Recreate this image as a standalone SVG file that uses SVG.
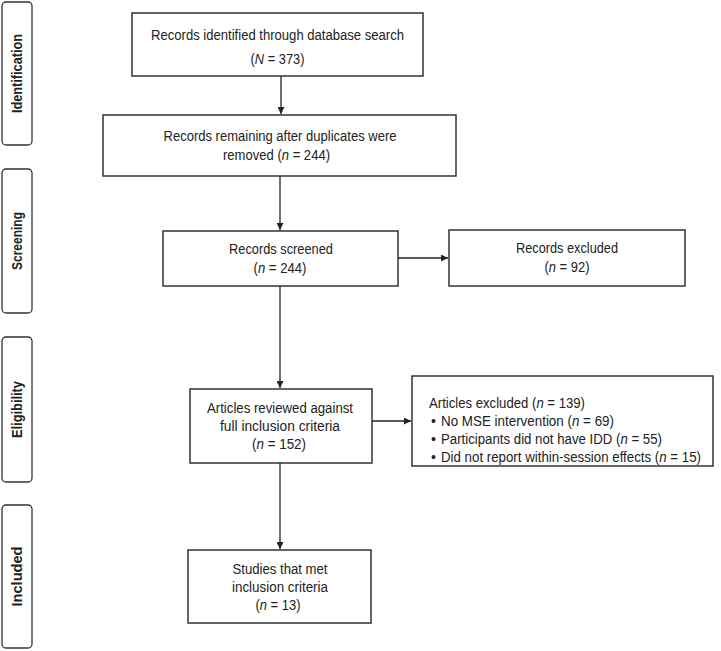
<svg xmlns="http://www.w3.org/2000/svg" width="721" height="651" viewBox="0 0 721 651">
<style>
text{font-family:"Liberation Sans Narrow","Liberation Sans",Arial,sans-serif;font-size:14px;fill:#222;}
.c{text-anchor:middle;}
.side{font-weight:bold;font-size:14px;text-anchor:middle;}
.box{fill:#fff;stroke:#333;stroke-width:1.5;}
.sbox{fill:#fff;stroke:#333;stroke-width:1.3;}
.i{font-style:italic;}
.conn line{stroke:#222;stroke-width:1.3;}
</style>
<defs>
<marker id="ah" viewBox="0 0 10 10" refX="10" refY="5" markerWidth="7" markerHeight="7" markerUnits="userSpaceOnUse" orient="auto">
<path d="M0,0 L10,5 L0,10 z" fill="#222"/>
</marker>
</defs>
<rect width="721" height="651" fill="#fff"/>

<g id="stage-identification">
<rect class="sbox" x="2" y="2" width="30" height="143" rx="4"/>
<text class="side" transform="translate(22,73.5) rotate(-90)" textLength="79" lengthAdjust="spacingAndGlyphs">Identification</text>
</g>
<g id="stage-screening">
<rect class="sbox" x="2" y="169" width="30" height="144" rx="4"/>
<text class="side" transform="translate(22,241) rotate(-90)" textLength="58" lengthAdjust="spacingAndGlyphs">Screening</text>
</g>
<g id="stage-eligibility">
<rect class="sbox" x="2" y="337" width="30" height="145" rx="4"/>
<text class="side" transform="translate(22,409.5) rotate(-90)" textLength="57" lengthAdjust="spacingAndGlyphs">Eligibility</text>
</g>
<g id="stage-included">
<rect class="sbox" x="2" y="505" width="30" height="143" rx="4"/>
<text class="side" transform="translate(22,576.5) rotate(-90)" textLength="60" lengthAdjust="spacingAndGlyphs">Included</text>
</g>

<g id="identified">
<rect class="box" x="132" y="13" width="291" height="63"/>
<text class="c" x="277.5" y="40" textLength="253" lengthAdjust="spacingAndGlyphs">Records identified through database search</text>
<text class="c" x="277.5" y="64" textLength="54" lengthAdjust="spacingAndGlyphs">(<tspan class="i">N</tspan> = 373)</text>
</g>

<g id="remaining">
<rect class="box" x="103" y="115" width="353" height="61"/>
<text class="c" x="280" y="141" textLength="233" lengthAdjust="spacingAndGlyphs">Records remaining after duplicates were</text>
<text class="c" x="276.5" y="160" textLength="107" lengthAdjust="spacingAndGlyphs">removed (<tspan class="i">n</tspan> = 244)</text>
</g>

<g id="screened">
<rect class="box" x="163" y="231" width="235" height="55"/>
<text class="c" x="281" y="254" textLength="104" lengthAdjust="spacingAndGlyphs">Records screened</text>
<text class="c" x="280" y="273" textLength="53" lengthAdjust="spacingAndGlyphs">(<tspan class="i">n</tspan> = 244)</text>
</g>

<g id="excluded-records">
<rect class="box" x="449" y="230" width="236" height="56"/>
<text class="c" x="567" y="253" textLength="102" lengthAdjust="spacingAndGlyphs">Records excluded</text>
<text class="c" x="567" y="272" textLength="45" lengthAdjust="spacingAndGlyphs">(<tspan class="i">n</tspan> = 92)</text>
</g>

<g id="reviewed">
<rect class="box" x="190" y="389" width="182" height="74"/>
<text class="c" x="280" y="413" textLength="146" lengthAdjust="spacingAndGlyphs">Articles reviewed against</text>
<text class="c" x="280" y="431" textLength="120" lengthAdjust="spacingAndGlyphs">full inclusion criteria</text>
<text class="c" x="279" y="449" textLength="54" lengthAdjust="spacingAndGlyphs">(<tspan class="i">n</tspan> = 152)</text>
</g>

<g id="excluded-articles">
<rect class="box" x="412" y="376" width="301" height="90"/>
<text x="429" y="408" textLength="156" lengthAdjust="spacingAndGlyphs">Articles excluded (<tspan class="i">n</tspan> = 139)</text>
<text x="431" y="426">•</text>
<text x="441" y="426" textLength="173" lengthAdjust="spacingAndGlyphs">No MSE intervention (<tspan class="i">n</tspan> = 69)</text>
<text x="431" y="444">•</text>
<text x="441" y="444" textLength="221" lengthAdjust="spacingAndGlyphs">Participants did not have IDD (<tspan class="i">n</tspan> = 55)</text>
<text x="431" y="462">•</text>
<text x="441" y="462" textLength="260" lengthAdjust="spacingAndGlyphs">Did not report within-session effects (<tspan class="i">n</tspan> = 15)</text>
</g>

<g id="included">
<rect class="box" x="188" y="550" width="183" height="73"/>
<text class="c" x="280" y="574" textLength="95" lengthAdjust="spacingAndGlyphs">Studies that met</text>
<text class="c" x="280" y="592" textLength="96" lengthAdjust="spacingAndGlyphs">inclusion criteria</text>
<text class="c" x="278" y="610" textLength="45" lengthAdjust="spacingAndGlyphs">(<tspan class="i">n</tspan> = 13)</text>
</g>

<g id="connectors" class="conn">
<line x1="281" y1="76" x2="281" y2="114" marker-end="url(#ah)"/>
<line x1="280" y1="176" x2="280" y2="230" marker-end="url(#ah)"/>
<line x1="280" y1="286" x2="280" y2="388" marker-end="url(#ah)"/>
<line x1="280" y1="463" x2="280" y2="549" marker-end="url(#ah)"/>
<line x1="398" y1="258" x2="448" y2="258" marker-end="url(#ah)"/>
<line x1="372" y1="421" x2="411" y2="421" marker-end="url(#ah)"/>
</g>
</svg>
